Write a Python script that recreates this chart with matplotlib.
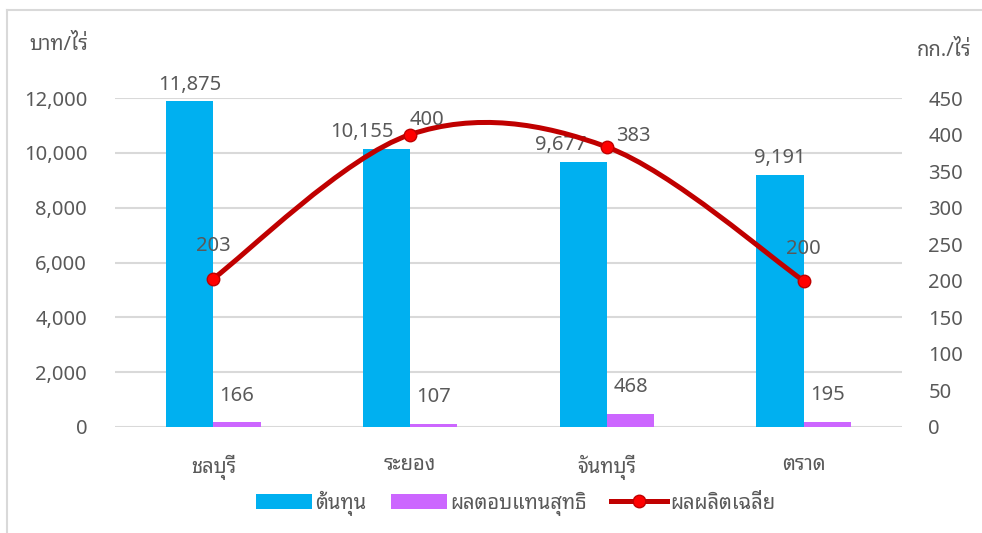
import matplotlib
matplotlib.use("Agg")
import matplotlib.pyplot as plt
import numpy as np
from matplotlib.path import Path
from matplotlib.patches import PathPatch, Patch
from matplotlib.lines import Line2D

plt.rcParams['font.family'] = ['Noto Sans Thai Looped', 'Noto Sans', 'DejaVu Sans']

# data
provinces = ['ชลบุรี', 'ระยอง', 'จันทบุรี', 'ตราด']
cost = [11875, 10155, 9677, 9191]          # ต้นทุน (บาท/ไร่)
net_return = [166, 107, 468, 195]          # ผลตอบแทนสุทธิ (บาท/ไร่)
avg_yield = [203, 400, 383, 200]           # ผลผลิตเฉลี่ย (กก./ไร่)
left_ticks = [0, 2000, 4000, 6000, 8000, 10000, 12000]
right_ticks = [0, 50, 100, 150, 200, 250, 300, 350, 400, 450]

TXT = '#595959'
BLUE = '#00B0F0'
PURPLE = '#CC66FF'
DARKRED = '#C00000'
GRID = '#D9D9D9'
FS = 14.5


def smooth_path(xs, ys):
    """Excel-like smoothed line: Catmull-Rom converted to cubic Bezier segments"""
    pts = np.column_stack([xs, ys]).astype(float)
    ext = np.vstack([pts[0], pts, pts[-1]])
    verts = [pts[0]]
    codes = [Path.MOVETO]
    for i in range(1, len(ext) - 2):
        p0, p1, p2, p3 = ext[i - 1], ext[i], ext[i + 1], ext[i + 2]
        verts += [p1 + (p2 - p0) / 6, p2 - (p3 - p1) / 6, p2]
        codes += [Path.CURVE4] * 3
    return Path(verts, codes)


fig = plt.figure(figsize=(9.82, 5.33), dpi=100)
ax1 = fig.add_axes([0.1171, 0.1989, 0.8014, 0.6172])
ax2 = ax1.twinx()

x = np.arange(len(provinces))
w = 0.24
ax1.bar(x - w / 2, cost, w, color=BLUE, zorder=2)
ax1.bar(x + w / 2, net_return, w, color=PURPLE, zorder=2)

ax1.set_xlim(-0.5, len(provinces) - 0.5)
ax1.set_ylim(0, 12000)
ax1.set_yticks(left_ticks)
ax1.set_yticklabels([f'{t:,}' for t in left_ticks])
ax1.set_xticks(x)
ax1.set_xticklabels(provinces)
ax1.grid(axis='y', color=GRID, linewidth=1.5, zorder=0)
ax1.set_axisbelow(True)
ax1.tick_params(axis='y', length=0, pad=20, labelsize=FS, labelcolor=TXT)
ax1.tick_params(axis='x', length=0, pad=20, labelsize=FS, labelcolor=TXT)

ax2.set_ylim(0, 450)
ax2.set_yticks(right_ticks)
ax2.tick_params(axis='y', length=0, pad=19, labelsize=FS, labelcolor=TXT)
for a in (ax1, ax2):
    for s in a.spines.values():
        s.set_visible(False)

# smoothed average-yield line
ax2.add_patch(PathPatch(smooth_path(x, avg_yield), facecolor='none',
                        edgecolor=DARKRED, linewidth=3.6, zorder=3,
                        capstyle='round'))
ax2.plot(x, avg_yield, 'o', color='#FF0000', markeredgecolor=DARKRED,
         markersize=9, markeredgewidth=1, zorder=4)

# data labels
cost_off = [(0, 5), (-18, 5), (-16, 5), (0, 5)]
for xi, v, (dx, dy) in zip(x - w / 2, cost, cost_off):
    ax1.annotate(f'{v:,}', (xi, v), xytext=(dx, dy), textcoords='offset points',
                 ha='center', va='bottom', fontsize=FS, color=TXT)
for xi, v in zip(x + w / 2, net_return):
    ax1.annotate(f'{v:,}', (xi, v), xytext=(0, 12), textcoords='offset points',
                 ha='center', va='bottom', fontsize=FS, color=TXT)
yield_off = [(0, 16), (12, 3), (19, 1), (0, 16)]
for xi, v, (dx, dy) in zip(x, avg_yield, yield_off):
    ax2.annotate(f'{v:,}', (xi, v), xytext=(dx, dy), textcoords='offset points',
                 ha='center', va='bottom', fontsize=FS, color=TXT)

# axis unit titles
fig.text(0.030, 0.915, 'บาท/ไร่', fontsize=FS, color=TXT, va='center')
fig.text(0.934, 0.905, 'กก./ไร่', fontsize=FS, color=TXT, va='center')

# legend
handles = [Patch(facecolor=BLUE), Patch(facecolor=PURPLE),
           Line2D([0], [0], color=DARKRED, linewidth=3.6, marker='o',
                  markerfacecolor='#FF0000', markeredgecolor=DARKRED, markersize=9)]
fig.legend(handles, ['ต้นทุน', 'ผลตอบแทนสุทธิ', 'ผลผลิตเฉลี่ย'],
           loc='center', bbox_to_anchor=(0.525, 0.056), ncol=3, frameon=False,
           fontsize=FS, labelcolor=TXT, handlelength=2.8, handleheight=0.8,
           handletextpad=0.15, columnspacing=1.2)

# outer chart border (left and top edges visible)
fig.add_artist(Line2D([0.0075, 0.0075], [0, 0.981], color=GRID, linewidth=1.5,
                      transform=fig.transFigure))
fig.add_artist(Line2D([0.0075, 1.0], [0.981, 0.981], color=GRID, linewidth=1.5,
                      transform=fig.transFigure))

fig.savefig('out.png', dpi=100)
